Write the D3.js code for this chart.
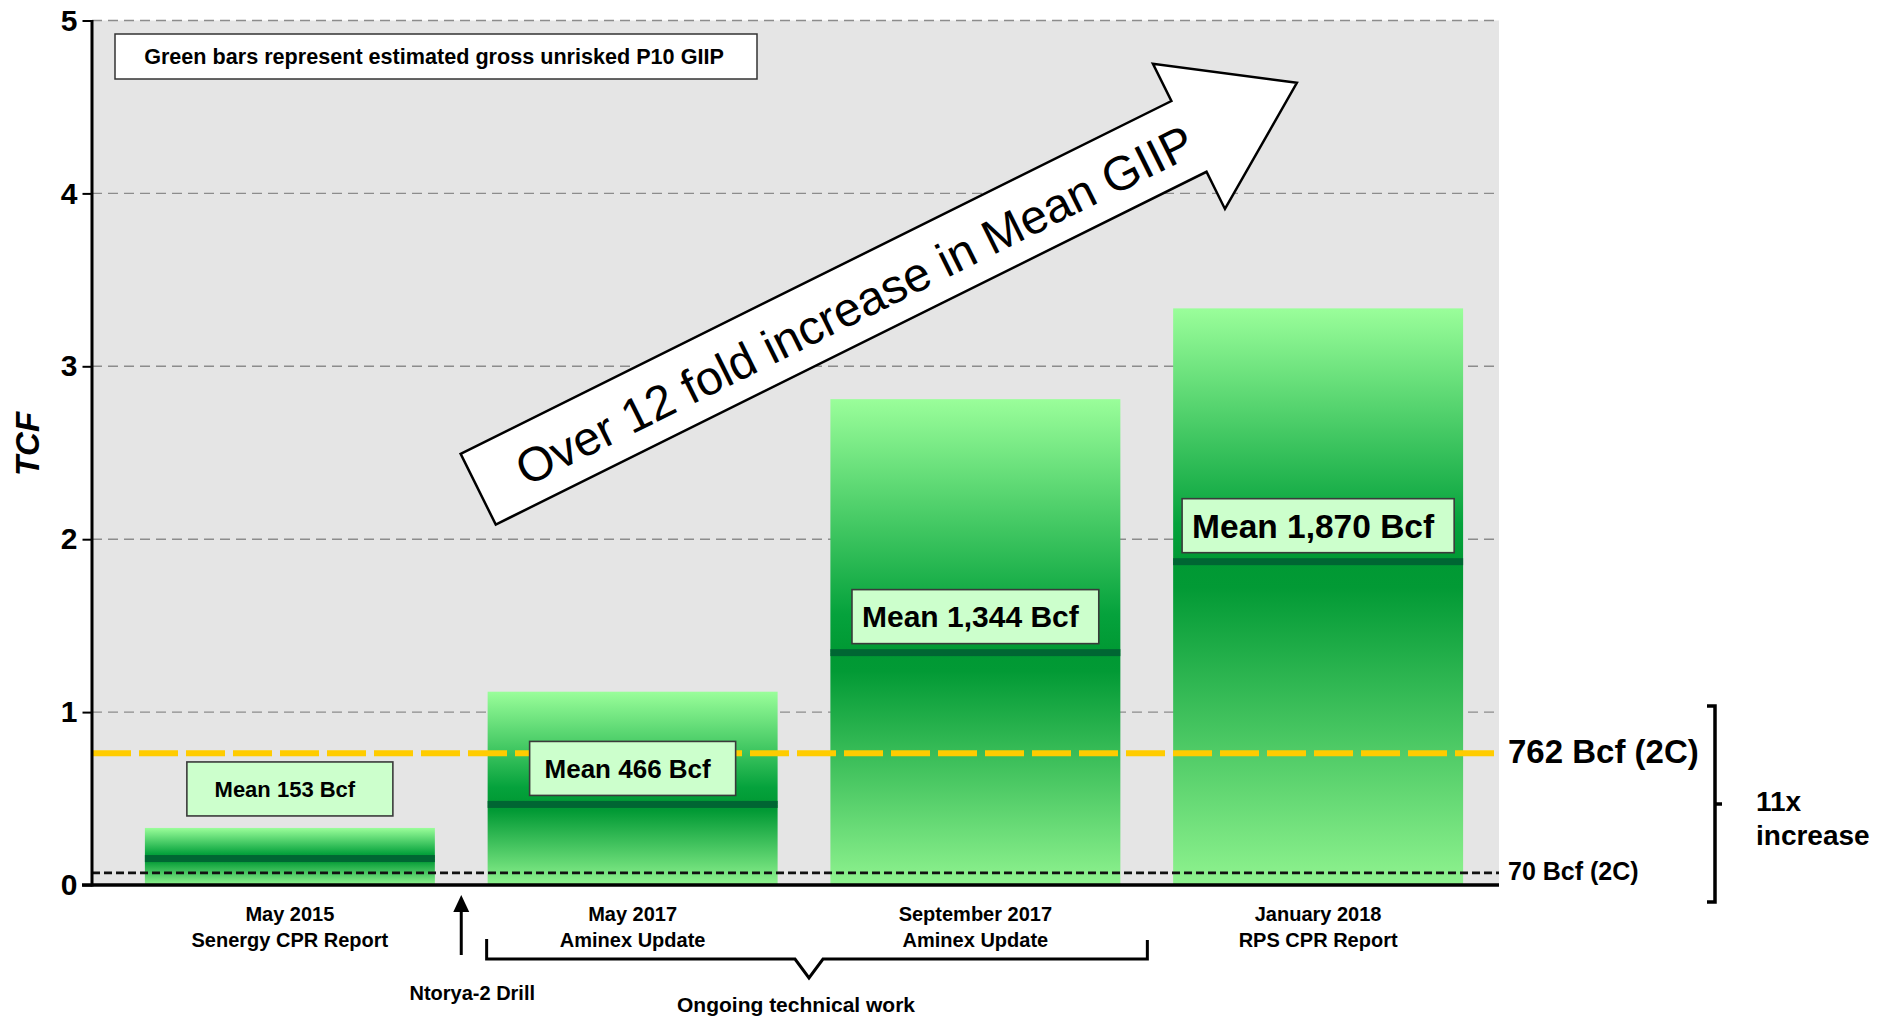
<!DOCTYPE html>
<html>
<head>
<meta charset="utf-8">
<script src="https://cdn.jsdelivr.net/npm/d3@7"></script>
<style>
  html, body { margin: 0; padding: 0; background: #fff; }
  svg { display: block; font-family: "Liberation Sans", Arial, Helvetica, sans-serif; }
</style>
</head>
<body>
<svg id="chart" width="1880" height="1019"></svg>
<script>
// ---- data ----
const reportDates   = ["May 2015", "May 2017", "September 2017", "January 2018"];
const reportSources = ["Senergy CPR Report", "Aminex Update", "Aminex Update", "RPS CPR Report"];
const p10Tcf        = [0.33, 1.118, 2.81, 3.335];   // gross unrisked P10 GIIP (TCF)
const meanBcf       = [153, 466, 1344, 1870];       // mean GIIP (Bcf)
const contingentBcf    = [762, 70];                 // 2C contingent resources (Bcf)
const contingentLabels = ["762 Bcf (2C)", "70 Bcf (2C)"];
const yTicks        = [0, 1, 2, 3, 4, 5];
const arrowText     = "Over 12 fold increase in Mean GIIP";
const noteText      = "Green bars represent estimated gross unrisked P10 GIIP";
const drillText     = "Ntorya-2 Drill";
const workText      = "Ongoing technical work";
const growthText    = ["11x", "increase"];

// ---- styles ----
const FONT = '"Liberation Sans", Arial, Helvetica, sans-serif';
const labelFontSize = [22, 26, 30, 33.5];
const LIGHT_TOP = "#9afe9a", LIGHT_BOTTOM = "#8ff38f", DARK = "#009933", BAND = "#006633";

const svg = d3.select("#chart");
const plot = { left: 92, right: 1499, top: 20.5, bottom: 885 };

const x = d3.scaleBand()
  .domain(reportDates)
  .range([118.5, 1489.5])
  .paddingInner(0.154)
  .paddingOuter(0.077);

const y = d3.scaleLinear().domain([0, 5]).range([plot.bottom, plot.top]);
const toTcf = bcf => bcf / 1000;

const bars = reportDates.map((d, i) => ({
  date: d, source: reportSources[i], p10: p10Tcf[i], bcf: meanBcf[i], mean: toTcf(meanBcf[i])
}));

// ---- gradients ----
const defs = svg.append("defs");
function gradient(id, stops) {
  const g = defs.append("linearGradient").attr("id", id)
    .attr("x1", 0).attr("y1", 0).attr("x2", 0).attr("y2", 1);
  stops.forEach(([o, c]) => g.append("stop").attr("offset", o).attr("stop-color", c));
}
gradient("gUpper", [[0, LIGHT_TOP], [0.85, "#05a23c"], [1, DARK]]);
gradient("gLower", [[0, DARK], [0.08, "#029a35"], [1, LIGHT_BOTTOM]]);

// ---- plot background and grid ----
svg.append("rect")
  .attr("x", plot.left).attr("y", plot.top)
  .attr("width", plot.right - plot.left).attr("height", plot.bottom - plot.top)
  .attr("fill", "#e5e5e5");

svg.append("g").selectAll("line")
  .data(yTicks.filter(v => v > 0))
  .join("line")
  .attr("x1", plot.left).attr("x2", plot.right)
  .attr("y1", d => y(d)).attr("y2", d => y(d))
  .attr("stroke", "#8c8c8c").attr("stroke-width", 1.4)
  .attr("stroke-dasharray", "10,6");

// ---- bars ----
const gb = svg.append("g");
gb.selectAll(".upper").data(bars).join("rect").attr("class", "upper")
  .attr("x", d => x(d.date)).attr("width", x.bandwidth())
  .attr("y", d => y(d.p10)).attr("height", d => y(d.mean) - y(d.p10))
  .attr("fill", "url(#gUpper)");
gb.selectAll(".lower").data(bars).join("rect").attr("class", "lower")
  .attr("x", d => x(d.date)).attr("width", x.bandwidth())
  .attr("y", d => y(d.mean)).attr("height", d => y(0) - y(d.mean))
  .attr("fill", "url(#gLower)");
gb.selectAll(".band").data(bars).join("rect").attr("class", "band")
  .attr("x", d => x(d.date)).attr("width", x.bandwidth())
  .attr("y", d => y(d.mean) - 3.5).attr("height", 7)
  .attr("fill", BAND);

// ---- 2C reference lines ----
const refStyle = [
  { stroke: "#ffcc00", width: 6, dash: "39,8", size: 33 },
  { stroke: "#111111", width: 2.6, dash: "8,4", size: 25 }
];
contingentBcf.forEach((bcf, i) => {
  const s = refStyle[i];
  const yy = y(toTcf(bcf));
  svg.append("line")
    .attr("x1", plot.left).attr("x2", plot.right)
    .attr("y1", yy).attr("y2", yy)
    .attr("stroke", s.stroke).attr("stroke-width", s.width)
    .attr("stroke-dasharray", s.dash);
  svg.append("text")
    .attr("x", plot.right + 9).attr("y", yy + 0.3 * s.size)
    .attr("font-size", s.size).attr("font-weight", "bold").attr("fill", "#000")
    .text(contingentLabels[i]);
});

// ---- mean labels ----
bars.forEach((d, i) => {
  const fs = labelFontSize[i];
  const g = svg.append("g");
  const t = g.append("text")
    .attr("font-size", fs).attr("font-weight", "bold").attr("fill", "#000")
    .text(`Mean ${d3.format(",")(d.bcf)} Bcf`);
  const tw = t.node().getComputedTextLength();
  const bw = Math.max(206, tw + 30), bh = 54;
  const cx = x(d.date) + x.bandwidth() / 2;
  let bottom = y(d.mean) - 9;
  if (bottom - bh < y(d.p10)) bottom = y(d.p10) - 12;
  const left = cx - bw / 2;
  g.insert("rect", "text")
    .attr("x", left).attr("y", bottom - bh).attr("width", bw).attr("height", bh)
    .attr("fill", "#ccffcc").attr("stroke", "#3a3a3a").attr("stroke-width", 1.6);
  t.attr("x", left + Math.max(9, (bw - tw) / 2 - 5))
   .attr("y", bottom - bh / 2 + 0.358 * fs);
});

// ---- growth arrow ----
const arrow = { cx: 478.2, cy: 489.2, angle: -26.4, shaftHalf: 39.5, headHalf: 81, headBase: 793.5, tip: 914 };
const ga = svg.append("g")
  .attr("transform", `translate(${arrow.cx},${arrow.cy}) rotate(${arrow.angle})`);
ga.append("polygon")
  .attr("points", [
    [0, -arrow.shaftHalf], [arrow.headBase, -arrow.shaftHalf], [arrow.headBase, -arrow.headHalf],
    [arrow.tip, 0], [arrow.headBase, arrow.headHalf], [arrow.headBase, arrow.shaftHalf], [0, arrow.shaftHalf]
  ].map(p => p.join(",")).join(" "))
  .attr("fill", "#fff").attr("stroke", "#000").attr("stroke-width", 2.5)
  .attr("stroke-linejoin", "miter");
ga.append("text")
  .attr("x", 419).attr("y", 2).attr("dy", "0.36em")
  .attr("text-anchor", "middle").attr("font-size", 48).attr("fill", "#000")
  .text(arrowText);

// ---- axes ----
const yAxis = d3.axisLeft(y).tickValues(yTicks).tickSize(9.5).tickPadding(5).tickFormat(d3.format("d"));
const gy = svg.append("g").attr("transform", `translate(${plot.left},0)`).call(yAxis)
  .attr("font-family", FONT);
gy.select(".domain").remove();
gy.selectAll(".tick line").attr("stroke", "#000").attr("stroke-width", 2);
gy.selectAll(".tick text").attr("font-size", 30).attr("font-weight", "bold").attr("fill", "#000");

svg.append("line")
  .attr("x1", plot.left).attr("x2", plot.left)
  .attr("y1", plot.top - 0.5).attr("y2", plot.bottom + 1.5)
  .attr("stroke", "#000").attr("stroke-width", 3);
svg.append("line")
  .attr("x1", plot.left - 10).attr("x2", plot.right)
  .attr("y1", plot.bottom).attr("y2", plot.bottom)
  .attr("stroke", "#000").attr("stroke-width", 3.5);

svg.append("text")
  .attr("transform", `translate(27,444) rotate(-90)`)
  .attr("text-anchor", "middle").attr("dy", "0.36em")
  .attr("font-size", 33).attr("font-weight", "bold").attr("font-style", "italic")
  .text("TCF");

// category labels
const gc = svg.append("g").attr("font-size", 20).attr("font-weight", "bold").attr("text-anchor", "middle");
bars.forEach(d => {
  const cx = x(d.date) + x.bandwidth() / 2;
  gc.append("text").attr("x", cx).attr("y", 921).text(d.date);
  gc.append("text").attr("x", cx).attr("y", 947).text(d.source);
});

// ---- note box ----
svg.append("rect")
  .attr("x", 115).attr("y", 34).attr("width", 642).attr("height", 45)
  .attr("fill", "#fff").attr("stroke", "#333").attr("stroke-width", 1.5);
svg.append("text")
  .attr("x", 434).attr("y", 64)
  .attr("text-anchor", "middle").attr("font-size", 21.6).attr("font-weight", "bold")
  .text(noteText);

// ---- drill marker ----
const gapX = (x(reportDates[0]) + x.bandwidth() + x(reportDates[1])) / 2;
svg.append("line")
  .attr("x1", gapX).attr("x2", gapX).attr("y1", 955).attr("y2", 908)
  .attr("stroke", "#000").attr("stroke-width", 3);
svg.append("polygon")
  .attr("points", `${gapX},895 ${gapX - 8},912 ${gapX + 8},912`)
  .attr("fill", "#000");
svg.append("text")
  .attr("x", gapX + 11).attr("y", 1000)
  .attr("text-anchor", "middle").attr("font-size", 20).attr("font-weight", "bold")
  .text(drillText);

// ---- ongoing work brace ----
const bL = x(reportDates[1]) - 1;
const bR = x(reportDates[2]) + x.bandwidth() + 27;
const bM = (bL + bR) / 2 - 8;
svg.append("path")
  .attr("d", `M${bL},939 V959 H${bM - 14} L${bM},978 L${bM + 14},959 H${bR} V940`)
  .attr("fill", "none").attr("stroke", "#000").attr("stroke-width", 3);
svg.append("text")
  .attr("x", bM - 13).attr("y", 1012)
  .attr("text-anchor", "middle").attr("font-size", 21).attr("font-weight", "bold")
  .text(workText);

// ---- 2C growth bracket ----
svg.append("path")
  .attr("d", "M1707,706 H1715 V902 H1707 M1715,804 H1722")
  .attr("fill", "none").attr("stroke", "#000").attr("stroke-width", 3.5);
svg.append("text").attr("x", 1756).attr("y", 811)
  .attr("font-size", 28).attr("font-weight", "bold").text(growthText[0]);
svg.append("text").attr("x", 1756).attr("y", 845)
  .attr("font-size", 28).attr("font-weight", "bold").text(growthText[1]);
</script>
</body>
</html>
